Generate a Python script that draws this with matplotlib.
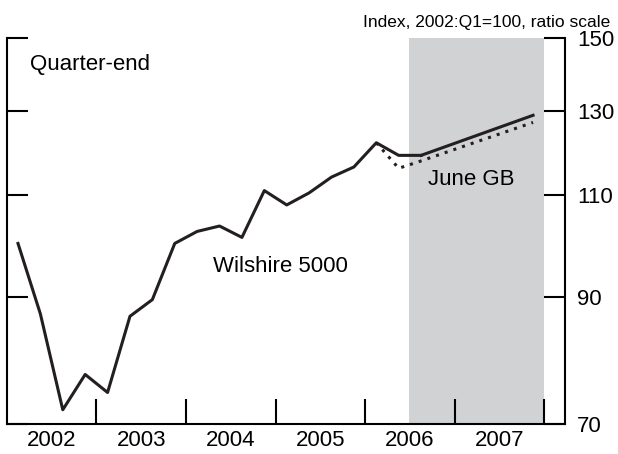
import matplotlib
matplotlib.use("Agg")
import matplotlib.pyplot as plt
from matplotlib.ticker import FixedLocator, NullLocator

plt.rcParams['font.family'] = ['Liberation Sans', 'DejaVu Sans']

hist_vals = [100, 87, 72, 77.2, 74.5, 86.6, 89.5, 100, 102.4, 103.5, 101.2, 111,
             107.9, 110.5, 114, 116.3, 122, 119, 119]
solid_proj_q = [18, 23]
solid_proj_vals = [119, 128.8]
dotted_q = [16, 17, 18, 23]
dotted_vals = [122, 116, 117.7, 127]
yticks = [70, 90, 110, 130, 150]
years = [2002, 2003, 2004, 2005, 2006, 2007]

def qx(i):
    return 2002 + (i + 0.5) / 4

fig = plt.figure(figsize=(6.18, 4.54), dpi=100)
ax = fig.add_axes([0.011, 0.066, 0.903, 0.85])
ax.axvspan(2006.49, 2008.0, color='#d1d2d4', lw=0)
ax.plot([qx(i) for i in range(len(hist_vals))], hist_vals, color='#231f20', lw=2.2)
ax.plot([qx(i) for i in solid_proj_q], solid_proj_vals, color='#231f20', lw=2.2)
ax.plot([qx(i) for i in dotted_q], dotted_vals, color='#231f20', lw=2.2, linestyle=(0, (1, 2)))
ax.set_yscale('log')
ax.set_ylim(70, 150)
ax.set_xlim(2002, 2008.23)
ax.yaxis.set_major_locator(FixedLocator(yticks))
ax.yaxis.set_minor_locator(NullLocator())
ax.set_yticklabels([str(v) for v in yticks])
ax.tick_params(axis='y', which='both', direction='in', length=15, width=1.5,
               left=True, right=True, labelleft=False, labelright=True, labelsize=16, pad=9)
ax.xaxis.set_major_locator(FixedLocator(years[1:] + [2008]))
ax.tick_params(axis='x', which='major', direction='in', length=18, width=1.5, labelbottom=False)
ax.tick_params(axis='x', which='minor', length=0, labelsize=16, pad=4)
ax.set_xticks([y + 0.5 for y in years], minor=True)
ax.set_xticklabels([str(y) for y in years], minor=True)
ax.spines['top'].set_visible(False)
for s in ['left', 'right', 'bottom']:
    ax.spines[s].set_linewidth(1.5)
ax.text(2002.26, 142.5, 'Quarter-end', fontsize=16, va='center')
ax.text(2004.3, 95.5, 'Wilshire 5000', fontsize=16, va='center')
ax.text(2006.7, 113.5, 'June GB', fontsize=16, va='center')
fig.text(0.988, 0.935, 'Index, 2002:Q1=100, ratio scale', fontsize=12.5, ha='right', va='bottom')
fig.savefig('out.png', dpi=100)
